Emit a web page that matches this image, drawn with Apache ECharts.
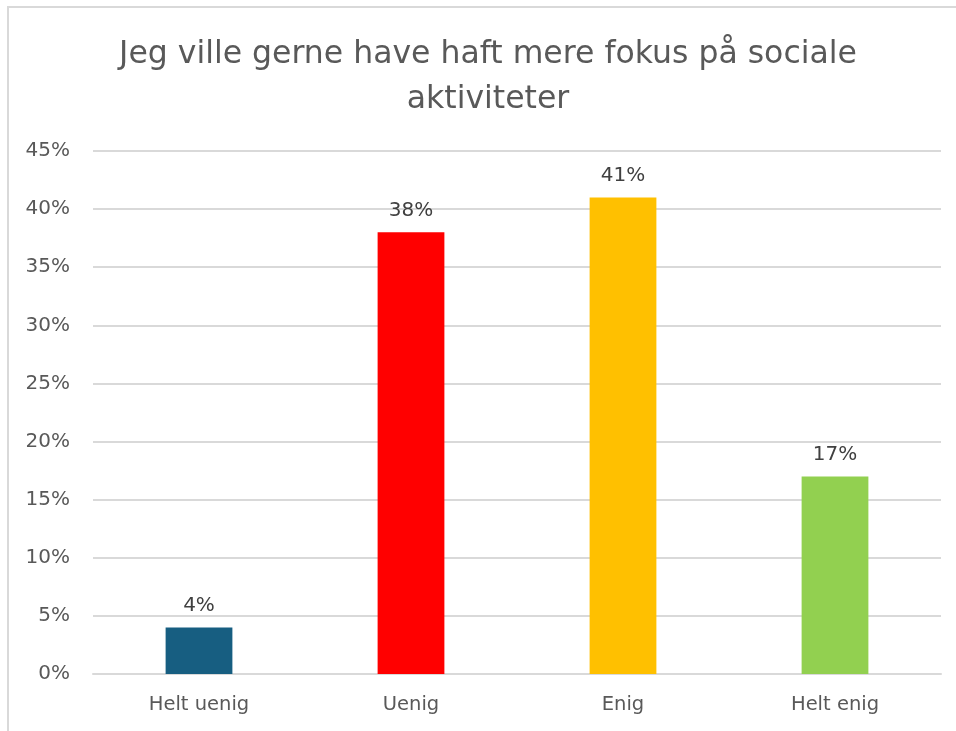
<!DOCTYPE html>
<html><head><meta charset="utf-8">
<script src="https://cdn.jsdelivr.net/npm/echarts@6/dist/echarts.min.js"></script>
<style>
html,body{margin:0;padding:0;background:#fff;}
#frame{position:absolute;left:7px;top:6px;width:960px;height:740px;border-left:2px solid #d9d9d9;border-top:2px solid #d9d9d9;box-sizing:border-box;}
#c{position:absolute;left:0;top:0;width:956px;height:731px;}
</style></head>
<body>
<div id="frame"></div>
<div id="c"></div>
<script>
const categories = ['Helt uenig', 'Uenig', 'Enig', 'Helt enig'];
const values = [4, 38, 41, 17];
const colors = ['#175E81', '#FF0000', '#FFC000', '#92D050'];
const titleText = 'Jeg ville gerne have haft mere fokus på sociale\naktiviteter';
const FONT = '"DejaVu Sans", Verdana, sans-serif';

const chart = echarts.init(document.getElementById('c'));
chart.setOption({
  animation: false,
  title: {
    text: titleText,
    left: 483,
    textAlign: 'center',
    top: 27,
    textStyle: {
      fontFamily: FONT,
      fontSize: 31.5, fontWeight: 'normal', color: '#595959', lineHeight: 45
    }
  },
  grid: { left: 93, right: 15, top: 151, bottom: 57, containLabel: false },
  xAxis: {
    type: 'category',
    data: categories,
    axisLine: { show: true, lineStyle: { color: '#d9d9d9', width: 2 } },
    axisTick: { show: false },
    axisLabel: { color: '#595959', fontSize: 19.5, margin: 21, fontFamily: FONT }
  },
  yAxis: {
    type: 'value',
    min: 0, max: 45, interval: 5,
    axisLine: { show: false },
    axisTick: { show: false },
    splitLine: { lineStyle: { color: '#d9d9d9', width: 2 } },
    axisLabel: { color: '#595959', fontSize: 20, margin: 23, formatter: '{value}%', fontFamily: FONT }
  },
  series: [{
    type: 'bar',
    data: values.map((v, i) => ({ value: v, itemStyle: { color: colors[i] } })),
    barWidth: '31.5%',
    label: {
      show: true, position: 'top', distance: 12,
      formatter: '{c}%', color: '#404040', fontSize: 20,
      fontFamily: FONT
    }
  }]
});
</script>
</body></html>
